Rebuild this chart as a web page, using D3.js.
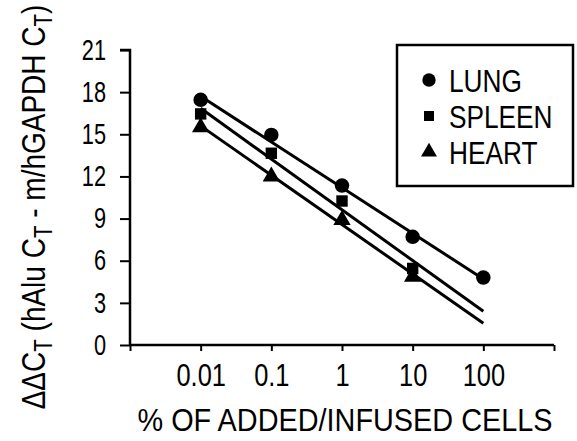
<!DOCTYPE html>
<html><head><meta charset="utf-8">
<script src="https://cdn.jsdelivr.net/npm/d3@7"></script>
<style>
body{margin:0;background:#fff;}
text{font-family:"Liberation Sans",Arial,sans-serif;fill:#000;}
</style></head>
<body>
<svg id="chart" width="577" height="441"></svg>
<script>
const xTicks = [0.001, 0.01, 0.1, 1, 10, 100, 1000];
const xTickLabels = ["", "0.01", "0.1", "1", "10", "100", ""];
const yTicks = [0, 3, 6, 9, 12, 15, 18, 21];
const seriesNames = ["LUNG", "SPLEEN", "HEART"];
const lungX = [0.01, 0.1, 1, 10, 100];
const lungY = [17.45, 14.95, 11.35, 7.7, 4.8];
const spleenX = [0.01, 0.1, 1, 10];
const spleenY = [16.45, 13.65, 10.25, 5.45];
const heartX = [0.01, 0.1, 1, 10];
const heartY = [15.5, 12.0, 8.9, 4.85];
// fitted lines as drawn (endpoints)
const lineX = [0.01, 100];
const lungLine = [17.7, 4.7];
const spleenLine = [16.85, 2.4];
const heartLine = [15.6, 1.55];

const svg = d3.select("#chart");
const x = d3.scaleLog().domain([0.001, 1000]).range([130, 554]);
const y = d3.scaleLinear().domain([0, 21]).range([345, 50]);

function condense(sel, f){
  sel.each(function(){
    const L = this.getComputedTextLength();
    d3.select(this).attr("textLength", L*f).attr("lengthAdjust","spacingAndGlyphs");
  });
}

// y axis
const yAxis = d3.axisLeft(y).tickValues(yTicks).tickSize(10).tickPadding(14).tickFormat(d3.format("d"));
const gy = svg.append("g").attr("transform","translate(130,0)").call(yAxis);
gy.attr("font-family",null).attr("font-size",null);
gy.select(".domain").attr("d", `M-10,${y(21)}H0V${y(0)}`).attr("stroke-width",2.5);
gy.selectAll(".tick line").attr("stroke-width",2);
gy.selectAll(".tick text").attr("font-size",29);
condense(gy.selectAll(".tick text"), 0.75);

// x axis
const xAxis = d3.axisBottom(x).tickValues(xTicks).tickSize(6).tickPadding(13).tickFormat((d,i)=>xTickLabels[i]);
const gx = svg.append("g").attr("transform","translate(0,345)").call(xAxis);
gx.attr("font-family",null).attr("font-size",null);
gx.select(".domain").attr("d", `M${x(0.001)},0H${x(1000)}`).attr("stroke-width",2.5);
gx.selectAll(".tick line").attr("stroke-width",2);
gx.selectAll(".tick text").attr("font-size",31);
condense(gx.selectAll(".tick text").filter(function(){return this.textContent!=="";}), 0.82);

// axis titles
svg.append("text").attr("x",345).attr("y",431).attr("text-anchor","middle")
  .attr("font-size",31).attr("textLength",415).attr("lengthAdjust","spacingAndGlyphs")
  .text("% OF ADDED/INFUSED CELLS");

const ytg = svg.append("g").attr("transform","translate(45,207) rotate(-90)");
const yt = ytg.append("text").attr("text-anchor","middle").attr("font-size",34);
yt.append("tspan").text("ΔΔC");
yt.append("tspan").attr("font-size",25).attr("dy",7).text("T");
yt.append("tspan").attr("dy",-7).text(" (hAlu C");
yt.append("tspan").attr("font-size",25).attr("dy",7).text("T");
yt.append("tspan").attr("dy",-7).text(" - m/hGAPDH C");
yt.append("tspan").attr("font-size",25).attr("dy",7).text("T");
yt.append("tspan").attr("dy",-7).text(")");
const ytw = yt.node().getBBox().width;
yt.attr("transform", `scale(${405/ytw},1)`);

// fitted lines
const line = d3.line().x(d=>x(d[0])).y(d=>y(d[1]));
[lungLine, spleenLine, heartLine].forEach(l=>{
  svg.append("path").attr("d", line(lineX.map((v,i)=>[v,l[i]])))
    .attr("fill","none").attr("stroke","#000").attr("stroke-width",3);
});

// markers
const sym = [d3.symbol().type(d3.symbolCircle).size(165),
             d3.symbol().type(d3.symbolSquare).size(130),
             d3.symbol().type(d3.symbolTriangle).size(130)];
const data = [[lungX,lungY],[spleenX,spleenY],[heartX,heartY]];
data.forEach((s,k)=>{
  svg.append("g").selectAll("path").data(s[0].map((v,i)=>[v,s[1][i]])).join("path")
    .attr("transform",d=>`translate(${x(d[0])},${y(d[1])})`)
    .attr("d",sym[k]()).attr("fill","#000");
});

// legend
const lg = svg.append("g");
lg.append("rect").attr("x",397).attr("y",45).attr("width",176).attr("height",141)
  .attr("fill","none").attr("stroke","#000").attr("stroke-width",2.5);
const lsym = [d3.symbol().type(d3.symbolCircle).size(140),
              d3.symbol().type(d3.symbolSquare).size(100),
              d3.symbol().type(d3.symbolTriangle).size(110)];
seriesNames.forEach((n,i)=>{
  const cy = 80 + i*36;
  lg.append("path").attr("transform",`translate(429,${cy})`).attr("d",lsym[i]()).attr("fill","#000");
  const t = lg.append("text").attr("x",449).attr("y",cy+12).attr("font-size",32).text(n);
  condense(t, 0.82);
});
</script>
</body></html>
